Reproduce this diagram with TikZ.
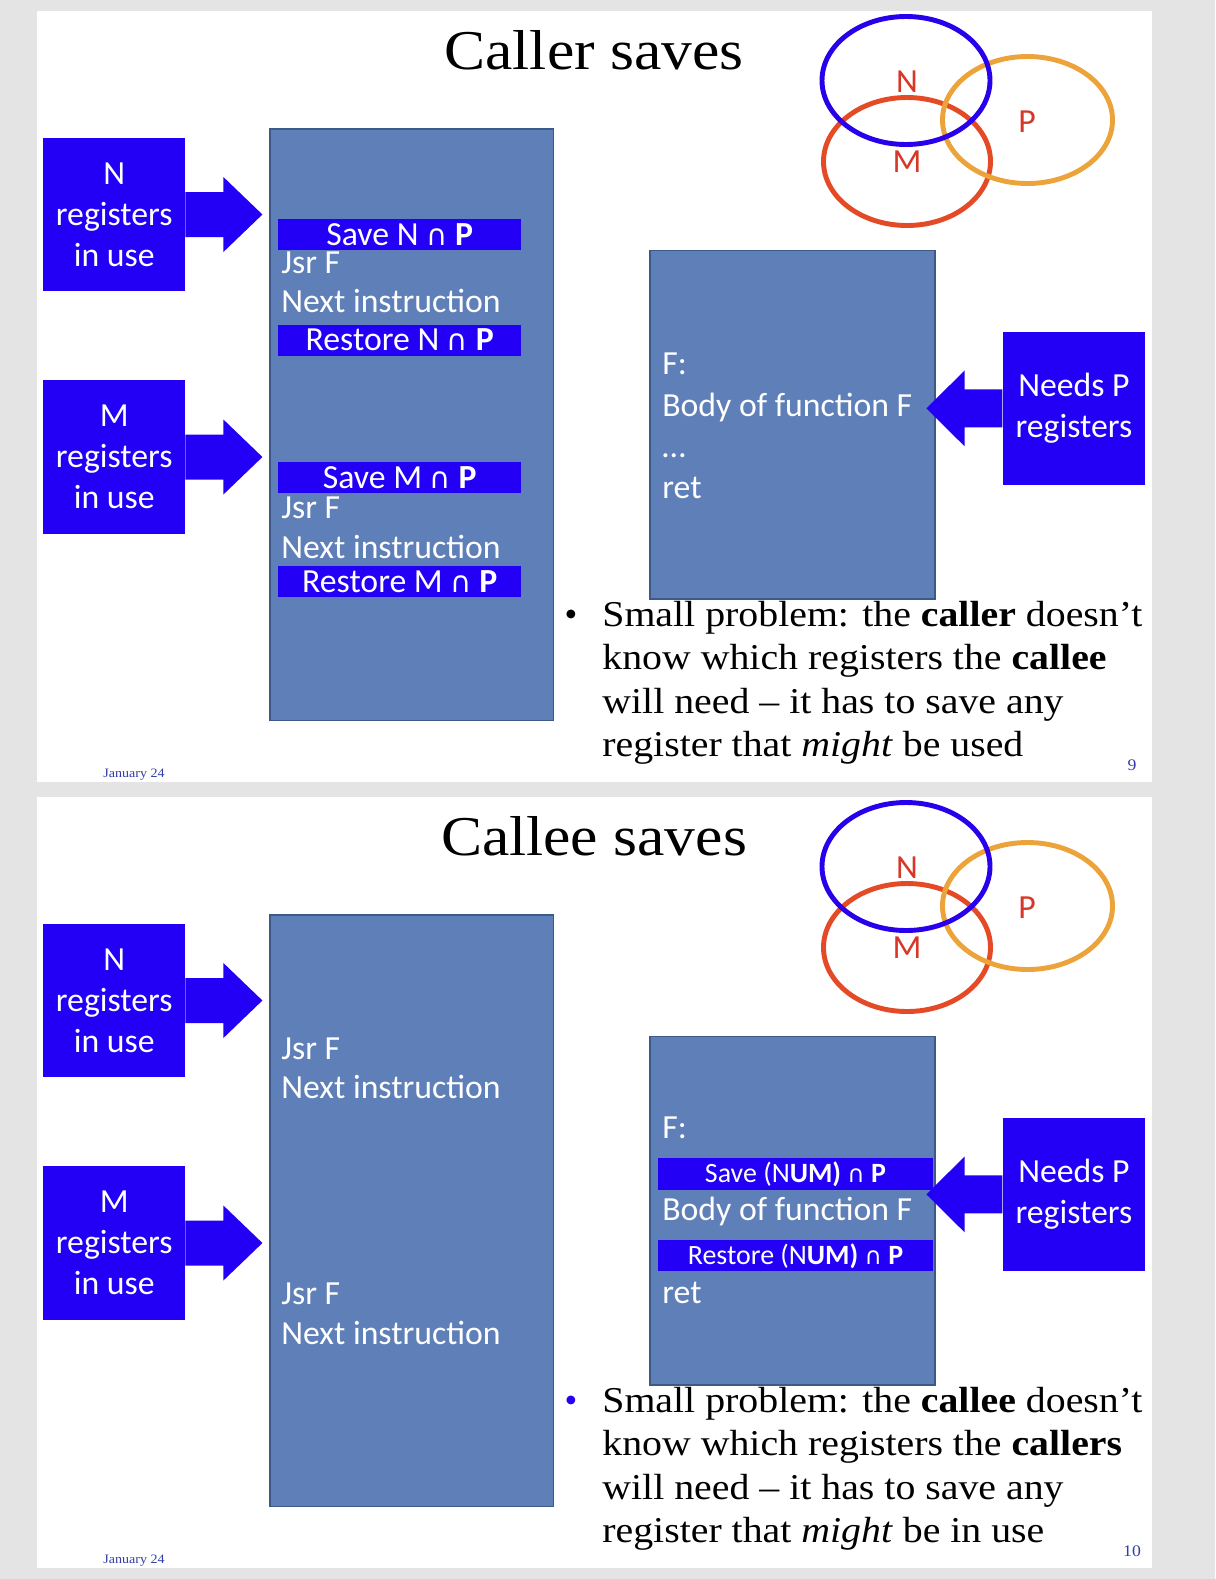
\documentclass[tikz,border=0pt]{standalone}
\usepackage{fontspec}
\usepackage{graphicx}
\setmainfont{Liberation Serif}
\newfontfamily\cfont{Carlito}
\newfontfamily\dvs{DejaVu Sans}
\definecolor{bgray}{RGB}{228,228,228}
\definecolor{bblue}{RGB}{35,0,245}
\definecolor{sblue}{RGB}{94,127,184}
\definecolor{sedge}{RGB}{60,90,135}
\definecolor{vred}{RGB}{228,74,38}
\definecolor{vorange}{RGB}{236,163,58}
\definecolor{vblue}{RGB}{40,0,235}
\definecolor{lred}{RGB}{215,55,40}
\definecolor{foot}{RGB}{50,60,170}
\newcommand{\sx}[1]{\scalebox{1.095}[1]{#1}}
\newcommand{\capsym}{{\dvs\fontsize{16.5}{18}\selectfont ∩}}
\newcommand{\sansbig}{\cfont\fontsize{19.2}{23.4}\selectfont}
\newcommand{\sanssmall}{\cfont\fontsize{15.9}{19}\selectfont}
\newcommand{\serifbig}{\fontsize{20.7}{24.8}\selectfont}
\newcommand{\titlefont}{\fontsize{32}{38}\selectfont}
\newcommand{\footfont}{\fontsize{7.3}{8.8}\selectfont}
\newcommand{\pagefont}{\fontsize{9.2}{11}\selectfont}
\tikzset{
  bbox/.style={fill=bblue, text=white, align=center, inner sep=0pt, font=\sansbig,
    minimum width=141.7*0.02cm, minimum height=153.5*0.02cm},
  codebox/.style={fill=sblue, draw=sedge, line width=0.8pt, inner sep=0pt},
  bar/.style={fill=bblue, text=white, inner sep=0pt, font=\sansbig, text height=12.4pt, text depth=0pt,
    minimum height=31*0.02cm},
  wtxt/.style={text=white, inner sep=0pt, font=\sansbig, text height=12.4pt, text depth=0pt, anchor=west},
  vlab/.style={text=lred, inner sep=0pt, font=\sansbig, text height=12.4pt, text depth=0pt},
  vline/.style={line width=2.8pt},
  ttl/.style={inner sep=0pt, font=\titlefont, text height=21.2pt, text depth=0pt},
  btxt/.style={inner sep=0pt, font=\serifbig, text height=13.7pt, text depth=0pt, anchor=west},
  ftxt/.style={inner sep=0pt, font=\footfont, text=foot, text height=4.8pt, text depth=0pt},
  ptxt/.style={inner sep=0pt, font=\pagefont, text=foot, text height=6.1pt, text depth=0pt},
  arr/.style={fill=bblue}
}
\newcommand{\slidebase}[3]{%
  \fill[white] (37,11) rectangle (1152,782);
  \node[ttl] (#1title) at (594,51) {\sx{#2}};
  % venn
  \draw[vred,vline] (907,161.5) ellipse [x radius=83.5, y radius=64];
  \draw[vorange,vline] (1027.5,120) ellipse [x radius=85, y radius=63.5];
  \draw[vblue,vline] (906,80.5) ellipse [x radius=84, y radius=64];
  \node[vlab] (#1vn) at (907,82) {N};
  \node[vlab] (#1vm) at (907,162) {M};
  \node[vlab] (#1vp) at (1027,122) {P};
  % left boxes
  \node[bbox] (#1nbox) at (114.2,214.5) {N\\registers\\in use};
  \node[bbox] (#1mbox) at (114.2,457) {M\\registers\\in use};
  \fill[arr] (#1nbox.east) ++(0,-22.5) -- ++(38,0) -- ++(0,-15) -- ++(39,37.5) -- ++(-39,37.5) -- ++(0,-15) -- ++(-38,0) -- cycle;
  \fill[arr] (#1mbox.east) ++(0,-22.5) -- ++(38,0) -- ++(0,-15) -- ++(39,37.5) -- ++(-39,37.5) -- ++(0,-15) -- ++(-38,0) -- cycle;
  % code rect
  \node[codebox, minimum width=283.6*0.02cm, minimum height=591.7*0.02cm] (#1main) at (411.8,424.9) {};
  \node[wtxt] (#1jsra) at (281,263) {Jsr F};
  \node[wtxt] (#1nexta) at (281,302) {Next instruction};
  \node[wtxt] (#1jsrb) at (281,508) {Jsr F};
  \node[wtxt] (#1nextb) at (281,548) {Next instruction};
  % function rect
  \node[codebox, minimum width=285*0.02cm, minimum height=348.4*0.02cm] (#1func) at (792.5,424.8) {};
  % needs P
  \node[bbox, minimum width=142.3*0.02cm, minimum height=153.3*0.02cm] (#1pbox) at (1073.9,408.4) {Needs P\\registers};
  \fill[arr] (#1pbox.west) ++(0,-19) -- ++(-37.7,0) -- ++(0,-19) -- ++(-38.3,38) -- ++(38.3,38) -- ++(0,-19) -- ++(37.7,0) -- cycle;
  % footer
  \node[ftxt] (#1date) at (134,773) {\sx{January 24}};
  \node[ptxt] (#1page) at (1132,765) {\sx{#3}};
}
\begin{document}
\begin{tikzpicture}[x=0.02cm,y=-0.02cm]
\useasboundingbox (0,0) rectangle (1215,1579);
\fill[bgray] (0,0) rectangle (1215,1579);
% ---------- slide 1 ----------
\slidebase{a}{Caller saves}{9}
\node[bar, minimum width=242.7*0.02cm] (asn) at (399.7,234.5) {Save N \capsym\ \textbf{P}};
\node[bar, minimum width=242.7*0.02cm] (arn) at (399.7,340) {Restore N \capsym\ \textbf{P}};
\node[bar, minimum width=242.7*0.02cm] (asm) at (399.7,477.5) {Save M \capsym\ \textbf{P}};
\node[bar, minimum width=242.7*0.02cm] (arm) at (399.7,581.7) {Restore M \capsym\ \textbf{P}};
\node[wtxt] (af) at (662,364) {F:};
\node[wtxt] (abody) at (662,406) {Body of function F};
\node[wtxt, anchor=base west, text height=] (adots) at (662,457) {…};
\node[wtxt] (aret) at (662,488) {ret};
\node[btxt, anchor=center] (abul) at (571,614) {•};
\node[btxt] (al1) at (602,614) {\sx{Small problem: the \textbf{caller} doesn’t}};
\node[btxt] (al2) at (602,657) {\sx{know which registers the \textbf{callee}}};
\node[btxt] (al3) at (602,701) {\sx{will need – it has to save any}};
\node[btxt] (al4) at (602,744) {\sx{register that \textit{might} be used}};
% ---------- slide 2 ----------
\begin{scope}[shift={(0,786)}]
\slidebase{b}{Callee saves}{10}
\node[wtxt] (bf) at (662,342) {F:};
\node[bar, font=\sanssmall, text height=10.2pt, minimum width=275*0.02cm, minimum height=32*0.02cm] (bsave) at (795.5,388) {Save (N\textbf{UM)} {\dvs\fontsize{13.5}{15}\selectfont ∩}\ \textbf{P}};
\node[wtxt] (bbody) at (662,424) {Body of function F};
\node[bar, font=\sanssmall, text height=10.2pt, minimum width=275*0.02cm, minimum height=30.7*0.02cm] (brest) at (795.5,469.3) {Restore (N\textbf{UM)} {\dvs\fontsize{13.5}{15}\selectfont ∩}\ \textbf{P}};
\node[wtxt] (bret) at (662,507) {ret};
\node[btxt, anchor=center, text=vblue] (bbul) at (571,614) {•};
\node[btxt] (bl1) at (602,614) {\sx{Small problem: the \textbf{callee} doesn’t}};
\node[btxt] (bl2) at (602,657) {\sx{know which registers the \textbf{callers}}};
\node[btxt] (bl3) at (602,701) {\sx{will need – it has to save any}};
\node[btxt] (bl4) at (602,744) {\sx{register that \textit{might} be in use}};
\end{scope}
\end{tikzpicture}
\end{document}
